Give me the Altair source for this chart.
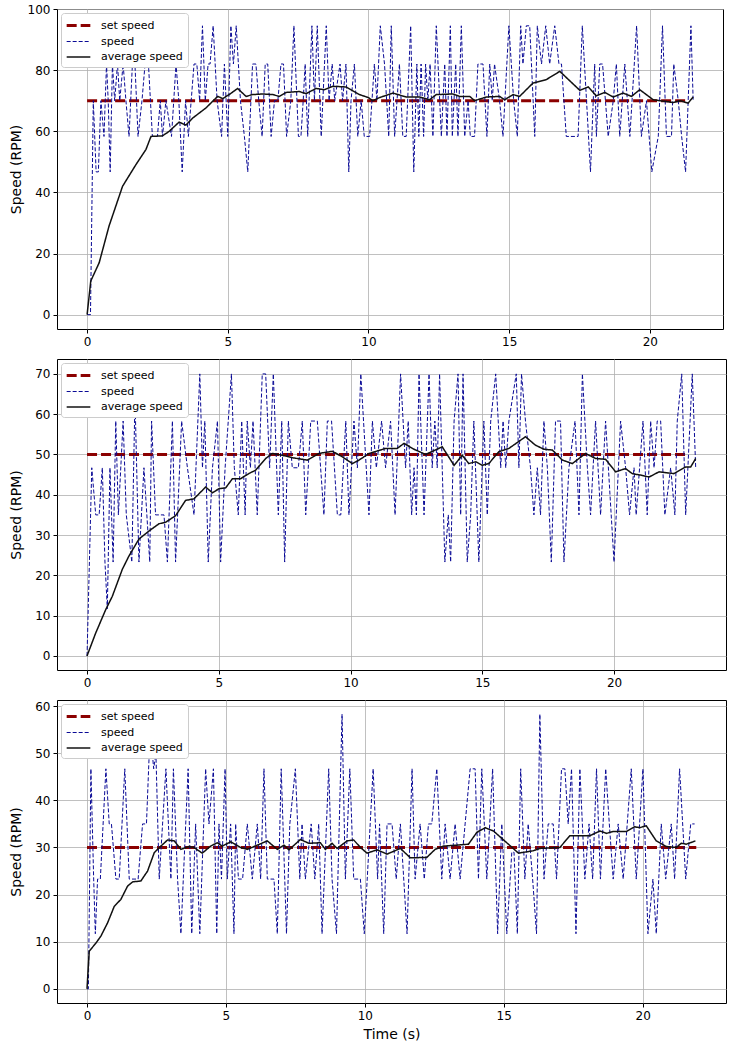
import altair as alt
import pandas as pd

NAMES = ["set speed", "speed", "average speed"]
COLORS = ["#8b0000", "#0a0a96", "#111111"]
DASHES = [[10, 4], [4, 2], [1, 0]]
WIDTHS = [3, 1, 1.5]

# ---------------- panel 1 ----------------
p1_set = 70
p1_set_end = 21.3
p1_speed_t = [0, 0.12, 0.22, 0.32, 0.4, 0.49, 0.6, 0.69, 0.75, 0.82, 0.9, 0.98, 1.08, 1.16, 1.28, 1.38, 1.49,
              1.61, 1.7, 1.81, 1.95, 2.06, 2.18, 2.32, 2.5, 2.6, 2.68, 2.8, 3.0, 3.16, 3.26, 3.38, 3.5, 3.6,
              3.8, 3.9, 4.0, 4.1, 4.2, 4.3, 4.37, 4.48, 4.62, 4.78, 4.88, 5.0, 5.11, 5.2, 5.3, 5.45, 5.59,
              5.71, 5.88, 6.0, 6.1, 6.22, 6.33, 6.42, 6.54, 6.66, 6.78, 6.89, 6.98, 7.09, 7.24, 7.35, 7.51,
              7.6, 7.68, 7.75, 7.84, 7.99, 8.08, 8.18, 8.32, 8.5, 8.6, 8.71, 8.8, 8.99, 9.08, 9.2, 9.3, 9.38,
              9.5, 9.62, 9.74, 9.85, 10.04, 10.21, 10.3, 10.42, 10.57, 10.72, 10.81, 10.93, 11.1, 11.22,
              11.34, 11.5, 11.61, 11.72, 11.79, 11.87, 11.96, 12.03, 12.11, 12.19, 12.29, 12.41, 12.59,
              12.71, 12.79, 12.91, 12.98, 13.1, 13.18, 13.3, 13.42, 13.54, 13.62, 13.77, 13.89, 14.07,
              14.21, 14.31, 14.4, 14.48, 14.66, 14.78, 14.99, 15.16, 15.29, 15.41, 15.49, 15.61, 15.73,
              15.91, 16.0, 16.15, 16.3, 16.44, 16.62, 16.77, 16.86, 17.03, 17.18, 17.27, 17.45, 17.6,
              17.75, 17.89, 18.04, 18.1, 18.22, 18.32, 18.52, 18.7, 18.81, 18.93, 19.11, 19.29, 19.53,
              19.7, 19.88, 20.07, 20.3, 20.45, 20.59, 20.77, 20.85, 21.01, 21.13, 21.27, 21.46, 21.54]
p1_speed_v = [0, 0, 70, 46.7, 46.7, 70, 58.3, 82, 70, 46.7, 82, 70, 82, 70, 82, 70, 58.3,
              82, 82, 58.3, 70, 82, 82, 58.3, 58.3, 70, 58.3, 70, 58.3, 82, 70, 46.7, 70, 58.3,
              82, 82, 70, 94.5, 70, 82, 82, 94.5, 70, 58.3, 82, 58.3, 94.5, 82, 94.5, 70, 58.3,
              46.7, 82, 82, 70, 58.3, 82, 82, 58.3, 70, 70, 82, 82, 58.3, 70, 94.5, 58.3,
              58.3, 70, 82, 58.3, 94.5, 70, 94.5, 58.3, 94.5, 70, 82, 70, 82, 70, 82, 46.7, 70,
              82, 58.3, 70, 58.3, 58.3, 82, 70, 94.5, 82, 58.3, 94.5, 58.3, 82, 58.3,
              58.3, 94.5, 46.7, 82, 58.3, 82, 58.3, 82, 70, 82, 58.3, 94.5, 58.3,
              82, 58.3, 94.5, 58.3, 82, 58.3, 94.5, 58.3, 70, 58.3, 58.3, 82, 82,
              58.3, 82, 70, 82, 70, 58.3, 94.5, 70, 58.3, 94.5, 82, 94.5, 94.5,
              58.3, 94.5, 82, 94.5, 82, 94.5, 82, 82, 58.3, 58.3, 58.3, 58.3, 94.5,
              70, 46.7, 82, 58.3, 82, 82, 58.3, 70, 82, 58.3, 82, 58.3, 94.5,
              58.3, 70, 46.7, 58.3, 94.5, 58.3, 58.3, 82, 70, 58.3, 46.7, 94.5, 70]
p1_avg_t = [0, 0.13, 0.43, 0.78, 1.26, 1.73, 2.09, 2.27, 2.68, 2.92, 3.27, 3.51, 3.75, 4.22, 4.64, 4.82,
            5.05, 5.35, 5.65, 5.88, 6.24, 6.6, 6.83, 7.07, 7.54, 7.78, 8.14, 8.43, 8.73, 9.2, 9.68, 10.0,
            10.15, 10.39, 10.87, 11.34, 11.82, 12.17, 12.41, 13.0, 13.24, 13.6, 13.77, 14.19, 14.66,
            14.84, 15.14, 15.37, 15.85, 16.32, 16.8, 17.51, 17.81, 18.1, 18.4, 18.7, 19.05, 19.35,
            19.64, 20.12, 20.83, 21.07, 21.36, 21.54]
p1_avg_v = [0, 11, 17, 29, 42, 49, 54, 58.3, 58.5, 60, 63, 62, 64.3, 67.6, 71.4, 70.7,
            72, 74, 71.4, 72, 72.2, 72, 71.4, 72.7, 73, 72.3, 74, 73.6, 74.7, 74.5, 72, 71,
            70, 71, 72.5, 71.2, 71.2, 70.3, 72, 72.2, 71.4, 71.4, 70, 71.2, 71.4,
            70.3, 72, 71.4, 75.8, 76.9, 79.6, 73.4, 74.5, 71.6, 72.7, 71.2, 72.5, 71.4,
            73.6, 70.3, 69.4, 70, 69.2, 71.2]

# ---------------- panel 2 ----------------
p2_set = 50
p2_set_end = 22.84
p2_speed_t = [0, 0.18, 0.33, 0.46, 0.58, 0.68, 0.77, 0.87, 0.99, 1.09, 1.19, 1.37, 1.49, 1.7, 1.82, 1.97,
              2.16, 2.38, 2.45, 2.6, 2.92, 3.05, 3.24, 3.36, 3.59, 3.81, 4.06, 4.28, 4.38, 4.47, 4.6,
              4.76, 4.95, 5.07, 5.24, 5.48, 5.59, 5.74, 5.87, 6.0, 6.08, 6.2, 6.3, 6.46, 6.65, 6.78,
              6.93, 7.07, 7.26, 7.39, 7.5, 7.64, 7.79, 8.02, 8.17, 8.3, 8.49, 8.74, 8.99, 9.12, 9.28,
              9.5, 9.63, 9.82, 9.94, 10.13, 10.26, 10.39, 10.7, 10.83, 10.98, 11.18, 11.33, 11.52,
              11.69, 11.9, 12.09, 12.19, 12.32, 12.41, 12.5, 12.6, 12.79, 12.98, 13.1, 13.2, 13.29,
              13.38, 13.48, 13.58, 13.71, 13.8, 13.93, 14.08, 14.18, 14.27, 14.43, 14.56, 14.68,
              14.87, 15.06, 15.19, 15.32, 15.51, 15.7, 15.79, 15.89, 16.01, 16.29, 16.39, 16.49,
              16.64, 16.83, 16.96, 17.09, 17.21, 17.34, 17.47, 17.62, 17.78, 17.97, 18.1, 18.29,
              18.52, 18.67, 18.8, 18.99, 19.11, 19.3, 19.49, 19.68, 20.0, 20.25, 20.44, 20.59,
              20.76, 20.84, 21.1, 21.26, 21.39, 21.52, 21.64, 21.77, 21.93, 22.15, 22.31, 22.4,
              22.57, 22.72, 22.97, 23.1]
p2_speed_v = [0, 46.7, 35, 35, 46.7, 23.3, 11.7, 46.7, 23.3, 58.3, 35, 58.3, 35, 23.3, 64, 23.3,
              46.7, 23.3, 58.3, 35, 35, 23.3, 58.3, 23.3, 58.3, 46.7, 35, 70, 46.7, 58.3, 23.3,
              46.7, 58.3, 23.3, 46.7, 70, 46.7, 35, 58.3, 35, 58.3, 46.7, 58.3, 35, 70, 70,
              46.7, 70, 35, 58.3, 23.3, 58.3, 46.7, 46.7, 58.3, 35, 58.3, 58.3, 35, 58.3, 58.3,
              35, 35, 58.3, 35, 58.3, 46.7, 70, 35, 58.3, 46.7, 58.3, 46.7, 58.3,
              35, 70, 46.7, 58.3, 35, 46.7, 35, 70, 35, 70, 46.7, 58.3, 46.7,
              70, 46.7, 23.3, 35, 23.3, 58.3, 70, 35, 70, 23.3, 35, 58.3,
              23.3, 58.3, 35, 58.3, 70, 46.7, 58.3, 46.7, 58.3, 70, 46.7, 70,
              58.3, 46.7, 35, 46.7, 35, 58.3, 46.7, 23.3, 58.3, 58.3, 23.3, 46.7,
              58.3, 35, 70, 46.7, 35, 58.3, 35, 58.3, 23.3, 58.3, 46.7, 35,
              46.7, 35, 58.3, 35, 58.3, 46.7, 58.3, 58.3, 35, 46.7, 35, 58.3,
              70, 35, 70, 46.7]
p2_avg_t = [0, 0.33, 0.71, 0.96, 1.34, 1.59, 1.97, 2.35, 2.73, 2.99, 3.36, 3.74, 4.06, 4.5, 4.76, 5.01,
            5.26, 5.52, 5.83, 6.15, 6.4, 6.78, 7.03, 7.41, 7.79, 8.36, 8.8, 9.31, 9.69, 10.07, 10.32,
            10.7, 10.83, 11.33, 11.77, 12.03, 12.41, 12.85, 13.48, 13.93, 14.24, 14.49, 14.75, 15.0,
            15.25, 15.63, 16.01, 16.64, 17.02, 17.34, 17.66, 18.04, 18.42, 18.92, 19.3, 19.68, 20.06,
            20.44, 20.69, 21.07, 21.33, 21.71, 22.27, 22.72, 22.91, 23.1]
p2_avg_v = [0, 5.7, 11.5, 14.8, 21.5, 24.8, 29, 31, 32.8, 33.2, 34.8, 38.6, 39, 41.9, 40.5, 41.5,
            41.7, 44, 44, 45.3, 46.1, 49, 50.25, 49.8, 49.2, 48.6, 50.25, 50.8, 49.4, 47.75, 48.6,
            50.25, 50.5, 51.5, 51.5, 52.75, 51.3, 50, 51.9, 47.3, 49.8, 47.75, 48.2, 47.3,
            47.75, 50.7, 51.5, 54.4, 52.3, 51.3, 51.1, 48.6, 47.75, 50.25, 49, 48.8, 45.7,
            46.5, 45.25, 44.8, 44.4, 45.7, 45.25, 46.9, 46.9, 49]

# ---------------- panel 3 ----------------
p3_set = 30
p3_set_end = 21.93
p3_speed_t = [0, 0.05, 0.14, 0.24, 0.3, 0.38, 0.48, 0.68, 0.8, 0.88, 1.04, 1.16, 1.36, 1.52, 1.84, 2.0,
              2.14, 2.24, 2.32, 2.4, 2.48, 2.6, 2.72, 2.84, 3.02, 3.11, 3.26, 3.38, 3.64, 3.77, 3.91,
              4.06, 4.27, 4.39, 4.55, 4.67, 4.75, 4.84, 4.97, 5.05, 5.17, 5.29, 5.35, 5.45, 5.6, 5.77,
              5.95, 6.13, 6.25, 6.37, 6.49, 6.73, 6.85, 6.99, 7.18, 7.3, 7.5, 7.66, 7.74, 7.86,
              8.07, 8.2, 8.34, 8.46, 8.7, 8.82, 8.98, 9.18, 9.3, 9.46, 9.6, 9.84, 9.98, 10.3, 10.46,
              10.53, 10.68, 10.8, 10.98, 11.13, 11.28, 11.52, 11.7, 11.81, 11.99, 12.14, 12.29, 12.41,
              12.59, 12.77, 12.89, 13.07, 13.25, 13.43, 13.61, 13.79, 13.97, 14.09, 14.21, 14.39,
              14.6, 14.78, 14.93, 15.11, 15.29, 15.37, 15.49, 15.61, 15.76, 15.88, 16.04, 16.18,
              16.3, 16.45, 16.6, 16.78, 16.9, 17.08, 17.2, 17.32, 17.44, 17.6, 17.74, 17.92, 18.07,
              18.2, 18.34, 18.48, 18.67, 18.8, 18.94, 19.12, 19.3, 19.59, 19.77, 20.01, 20.19, 20.37,
              20.49, 20.67, 20.83, 21.03, 21.15, 21.33, 21.55, 21.73, 21.87]
p3_speed_v = [0, 0, 46.7, 23.3, 11.7, 23.3, 23.3, 46.7, 35, 35, 23.3, 23.3, 46.7, 23.3, 23.3, 35,
              35, 50, 52, 46.7, 50, 23.3, 35, 46.7, 23.3, 46.7, 23.3, 11.7, 46.7, 11.7, 35,
              11.7, 46.7, 35, 46.7, 11.7, 35, 23.3, 46.7, 23.3, 35, 11.7, 35, 23.3, 23.3, 35,
              23.3, 35, 23.3, 46.7, 23.3, 23.3, 11.7, 46.7, 11.7, 35, 46.7, 23.3, 35, 23.3,
              35, 23.3, 35, 11.7, 46.7, 23.3, 11.7, 58.3, 23.3, 46.7, 23.3, 23.3, 11.7, 46.7, 23.3,
              35, 11.7, 35, 35, 23.3, 35, 11.7, 46.7, 23.3, 35, 23.3, 35, 35,
              46.7, 23.3, 35, 23.3, 35, 23.3, 35, 46.7, 46.7, 23.3, 46.7, 23.3,
              46.7, 11.7, 35, 11.7, 29, 29, 11.7, 46.7, 23.3, 35, 23.3, 11.7,
              58.3, 23.3, 35, 35, 23.3, 46.7, 46.7, 35, 46.7, 11.7, 46.7, 23.3, 35,
              23.3, 46.7, 23.3, 46.7, 35, 23.3, 35, 23.3, 46.7, 23.3, 46.7, 11.7, 23.3,
              11.7, 35, 23.3, 35, 23.3, 46.7, 23.3, 35, 35]
p3_avg_t = [0, 0.08, 0.32, 0.5, 0.74, 0.98, 1.22, 1.46, 1.64, 1.94, 2.18, 2.42, 2.66, 2.9, 3.14, 3.38,
            3.67, 3.85, 4.15, 4.45, 4.69, 4.87, 5.17, 5.53, 5.77, 6.13, 6.49, 6.85, 7.09, 7.27, 7.68,
            7.98, 8.4, 8.58, 8.82, 9.0, 9.36, 9.6, 9.84, 10.08, 10.44, 10.8, 11.28, 11.64, 12.23,
            12.53, 12.83, 13.31, 13.73, 14.03, 14.33, 14.63, 15.11, 15.53, 16.06, 16.3, 17.02, 17.38,
            18.1, 18.46, 18.7, 18.94, 19.42, 19.71, 19.89, 20.13, 20.49, 20.85, 21.21, 21.39, 21.57,
            21.9]
p3_avg_v = [0, 8, 9.7, 11.2, 14, 17.5, 19, 21.8, 22.7, 22.9, 25, 28.9, 30.3, 31.6, 31.4, 29.6,
            30.2, 30, 28.8, 30.3, 31, 30.3, 31.2, 30, 29.6, 30.5, 31.4, 29.6, 30.5, 29.5, 31.7,
            30.9, 31, 29.6, 30.9, 29.8, 31.4, 31.6, 30, 28.8, 29.5, 28.6, 29.8, 27.8, 27.9,
            29.6, 30.3, 30.5, 30.7, 33.2, 34.2, 33.5, 31, 28.8, 29.3, 29.8, 30, 32.5,
            32.5, 33.5, 33, 33.4, 33.4, 34.4, 34.2, 34.6, 31.4, 30.2, 30, 30.9, 30.7,
            31.4]

Y_TICKS = [[0, 20, 40, 60, 80, 100], [0, 10, 20, 30, 40, 50, 60, 70], [0, 10, 20, 30, 40, 50, 60]]
X_TICKS = [0, 5, 10, 15, 20]


def panel(set_v, set_end, st, sv, at, av, xdom, ydom, yticks, w, h, xtitle):
    d_set = pd.DataFrame({"t": [0, set_end], "v": [set_v, set_v], "series": NAMES[0]})
    d_spd = pd.DataFrame({"t": st, "v": sv, "series": NAMES[1]})
    d_avg = pd.DataFrame({"t": at, "v": av, "series": NAMES[2]})
    x = alt.X("t:Q", scale=alt.Scale(domain=xdom, nice=False, zero=False),
              axis=alt.Axis(values=X_TICKS, title=xtitle, format="d", titlePadding=6))
    y = alt.Y("v:Q", scale=alt.Scale(domain=ydom, nice=False, zero=False),
              axis=alt.Axis(values=yticks, title="Speed (RPM)", format="d",
                            titleX=-41, titleY=h / 2, titleAngle=270,
                            titleBaseline="middle", titleAlign="center"))
    leg = alt.Legend(title=None, orient="top-left")
    color = alt.Color("series:N", scale=alt.Scale(domain=NAMES, range=COLORS), legend=leg)
    dash = alt.StrokeDash("series:N", scale=alt.Scale(domain=NAMES, range=DASHES), legend=leg)
    sw = alt.StrokeWidth("series:N", scale=alt.Scale(type="ordinal", domain=NAMES, range=WIDTHS),
                         legend=leg)
    layers = []
    for d in (d_set, d_spd, d_avg):
        layers.append(alt.Chart(d).mark_line(clip=True).encode(
            x=x, y=y, color=color, strokeDash=dash, strokeWidth=sw))
    return alt.layer(*layers).properties(width=w, height=h)


c1 = panel(p1_set, p1_set_end, p1_speed_t, p1_speed_v, p1_avg_t, p1_avg_v,
           [-1.07, 22.6], [-4.7, 100], Y_TICKS[0], 666, 320, None)
c2 = panel(p2_set, p2_set_end, p2_speed_t, p2_speed_v, p2_avg_t, p2_avg_v,
           [-1.14, 24.25], [-3.5, 73.7], Y_TICKS[1], 669, 311, None)
c3 = panel(p3_set, p3_set_end, p3_speed_t, p3_speed_v, p3_avg_t, p3_avg_v,
           [-1.08, 23.0], [-3.0, 61.3], Y_TICKS[2], 669, 303, "Time (s)")

chart = alt.vconcat(c1, c2, c3, spacing=30, bounds="flush").resolve_scale(
    color="independent", strokeDash="independent", strokeWidth="independent"
).resolve_legend(
    color="independent", strokeDash="independent", strokeWidth="independent"
).properties(
    padding={"left": 8, "top": 2, "right": 0, "bottom": 0},
).configure(
    font="DejaVu Sans", background="white"
).configure_view(
    stroke="black", strokeWidth=1
).configure_axis(
    domain=False, grid=True, gridColor="#b0b0b0", gridWidth=0.8,
    tickColor="black", tickSize=4, labelColor="black", labelFontSize=12,
    labelFont="DejaVu Sans", titleFont="DejaVu Sans", titleFontSize=14,
    titleFontWeight="normal", titleColor="black", labelPadding=3
).configure_legend(
    orient="top-left", offset=4, fillColor="white", strokeColor="#cccccc",
    cornerRadius=3, padding=5, labelFontSize=11, labelFont="DejaVu Sans",
    labelColor="black", symbolType="M-2,0H2", symbolSize=140, rowPadding=3,
    symbolOffset=5, labelOffset=15
)

chart.save("out.html", embed_options={"renderer": "svg", "actions": False})
